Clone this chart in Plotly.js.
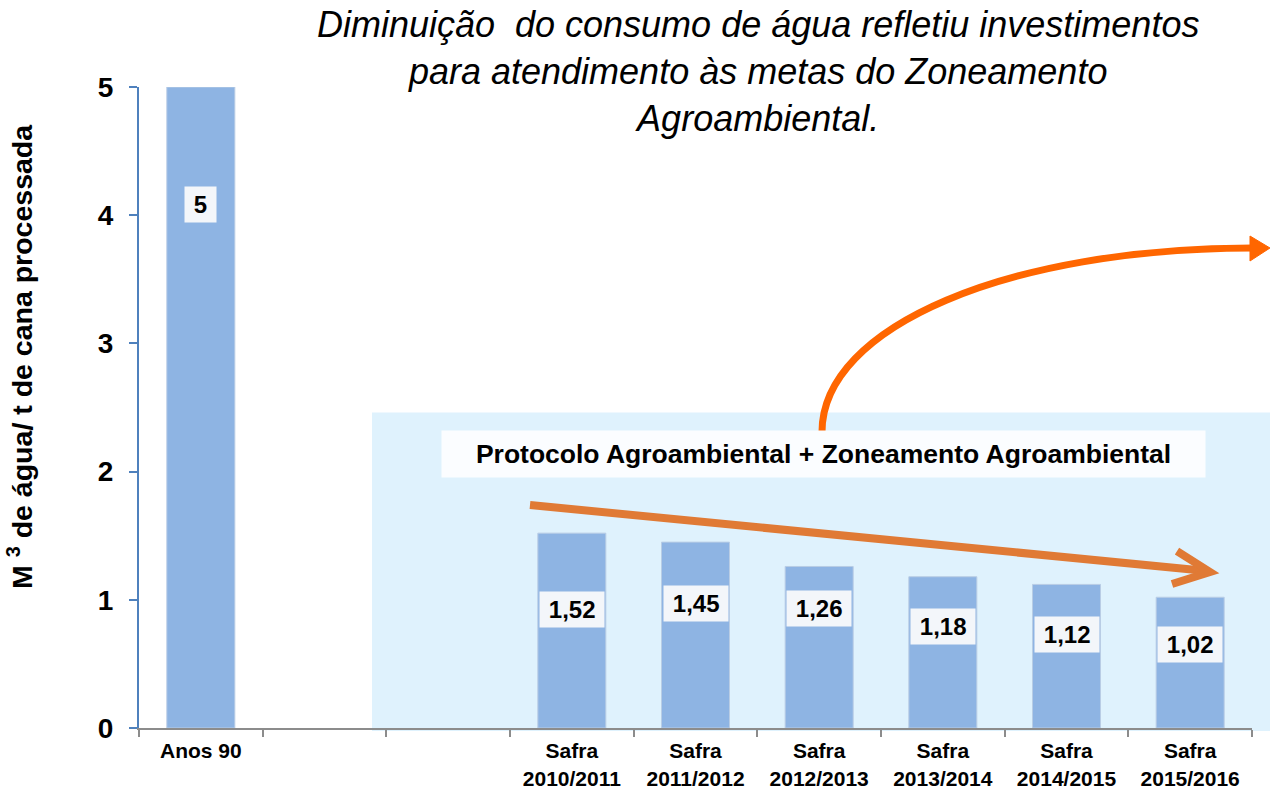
<!DOCTYPE html>
<html><head><meta charset="utf-8">
<script src="https://cdn.plot.ly/plotly-3.0.1.min.js"></script>
<style>html,body{margin:0;padding:0;background:#fff}#chart{width:1270px;height:792px}</style>
</head><body><div id="chart"></div>
<script>
// ---- data ----
const categories = ["Anos 90", " ", "  ", "Safra<br>2010/2011", "Safra<br>2011/2012", "Safra<br>2012/2013", "Safra<br>2013/2014", "Safra<br>2014/2015", "Safra<br>2015/2016"];
const values = [5, null, null, 1.52, 1.45, 1.26, 1.18, 1.12, 1.02];
const valueLabels = ["5", "", "", "1,52", "1,45", "1,26", "1,18", "1,12", "1,02"];
const titleText = "Diminuição  do consumo de água refletiu investimentos<br>para atendimento às metas do Zoneamento<br>Agroambiental.";
const yTitleText = "M <sup>3</sup> de água/ t de cana processada";
const bandText = "Protocolo Agroambiental + Zoneamento Agroambiental";

// ---- layout helpers (pixel -> paper) ----
const L = 139, T = 87, W = 1113, H = 641;
const px = x => (x - L) / W;
const py = y => (T + H - y) / H;
const P = (x, y) => px(x).toFixed(5) + "," + py(y).toFixed(5);
// label offsets below bar top (px), layout only
const labelShift = [-117, 0, 0, -76, -61, -42, -50, -50, -47];

const FONT = "Arial, 'Liberation Sans', sans-serif";

const trace = {
  type: "bar",
  x: categories,
  y: values,
  marker: {color: "#8EB4E3", line: {color: "#B9CDE5", width: 1}},
  hoverinfo: "skip"
};

const annotations = [];
categories.forEach((c, i) => {
  if (values[i] == null) return;
  annotations.push({
    x: c, y: values[i], xref: "x", yref: "y",
    text: "\u2009" + valueLabels[i] + "\u2009",
    showarrow: false, yanchor: "middle", xanchor: "center",
    yshift: labelShift[i],
    bgcolor: "#F3F6FA", borderpad: 4,
    font: {family: FONT, size: 24, color: "#000", weight: "bold"}
  });
});
annotations.push({
  xref: "paper", yref: "paper", x: px(823), y: py(454),
  xanchor: "center", yanchor: "middle", showarrow: false,
  text: bandText, bgcolor: "#FBFDFF", width: 755, height: 38, borderpad: 4,
  font: {family: FONT, size: 26.5, color: "#000", weight: "bold"}
});
annotations.push({
  xref: "paper", yref: "paper", x: px(20), y: py(357),
  xanchor: "center", yanchor: "middle", showarrow: false, textangle: -90,
  text: yTitleText,
  font: {family: FONT, size: 28.5, color: "#000", weight: "bold"}
});

const shapes = [
  {type: "rect", xref: "paper", yref: "paper", layer: "below",
   x0: px(372), x1: px(1272), y0: py(731), y1: py(412.5),
   fillcolor: "#DFF2FD", line: {width: 0}},
  // curved arrow
  {type: "path", xref: "paper", yref: "paper", layer: "above",
   path: "M" + P(822, 432) + " C" + P(822, 326) + " " + P(1010, 248) + " " + P(1252, 248),
   line: {color: "#FF6600", width: 7}},
  {type: "path", xref: "paper", yref: "paper", layer: "above",
   path: "M" + P(1250, 236) + " L" + P(1270, 248) + " L" + P(1250, 261) + " Z",
   fillcolor: "#FF6600", line: {color: "#FF6600", width: 1}},
  // straight trend arrow
  {type: "path", xref: "paper", yref: "paper", layer: "above",
   path: "M" + P(530, 505) + " L" + P(1207, 571),
   line: {color: "#E07A35", width: 8}},
  {type: "path", xref: "paper", yref: "paper", layer: "above",
   path: "M" + P(1177, 551) + " L" + P(1210, 572) + " L" + P(1172, 584),
   line: {color: "#E07A35", width: 8}}
];

const layout = {
  width: 1270, height: 792,
  margin: {l: L, r: 1270 - L - W, t: T, b: 792 - T - H, pad: 0},
  paper_bgcolor: "#FFFFFF", plot_bgcolor: "rgba(0,0,0,0)",
  showlegend: false,
  bargap: 0.45,
  title: {
    text: titleText, x: 0.597, xanchor: "center", xref: "container",
    y: 0.953, yanchor: "top", yref: "container",
    font: {family: FONT, size: 36, color: "#000", style: "italic"}
  },
  xaxis: {
    type: "category", tickson: "boundaries", ticks: "outside", ticklen: 7,
    tickcolor: "#8C8C8C", tickwidth: 2, showline: true, linecolor: "#8C8C8C", linewidth: 2,
    showgrid: false, zeroline: false, fixedrange: true, tickangle: 0, ticklabelstandoff: 3,
    tickfont: {family: FONT, size: 21, color: "#000", weight: "bold"}
  },
  yaxis: {
    range: [0, 5], dtick: 1, tick0: 0, ticks: "outside", ticklen: 8,
    tickcolor: "#4F81BD", tickwidth: 2, showline: true, linecolor: "#4F81BD", linewidth: 2,
    showgrid: false, zeroline: false, fixedrange: true, ticklabelstandoff: 10,
    tickfont: {family: FONT, size: 28, color: "#000", weight: "bold"}
  },
  annotations: annotations,
  shapes: shapes
};

Plotly.newPlot("chart", [trace], layout, {displayModeBar: false, staticPlot: true});
</script>
</body></html>
